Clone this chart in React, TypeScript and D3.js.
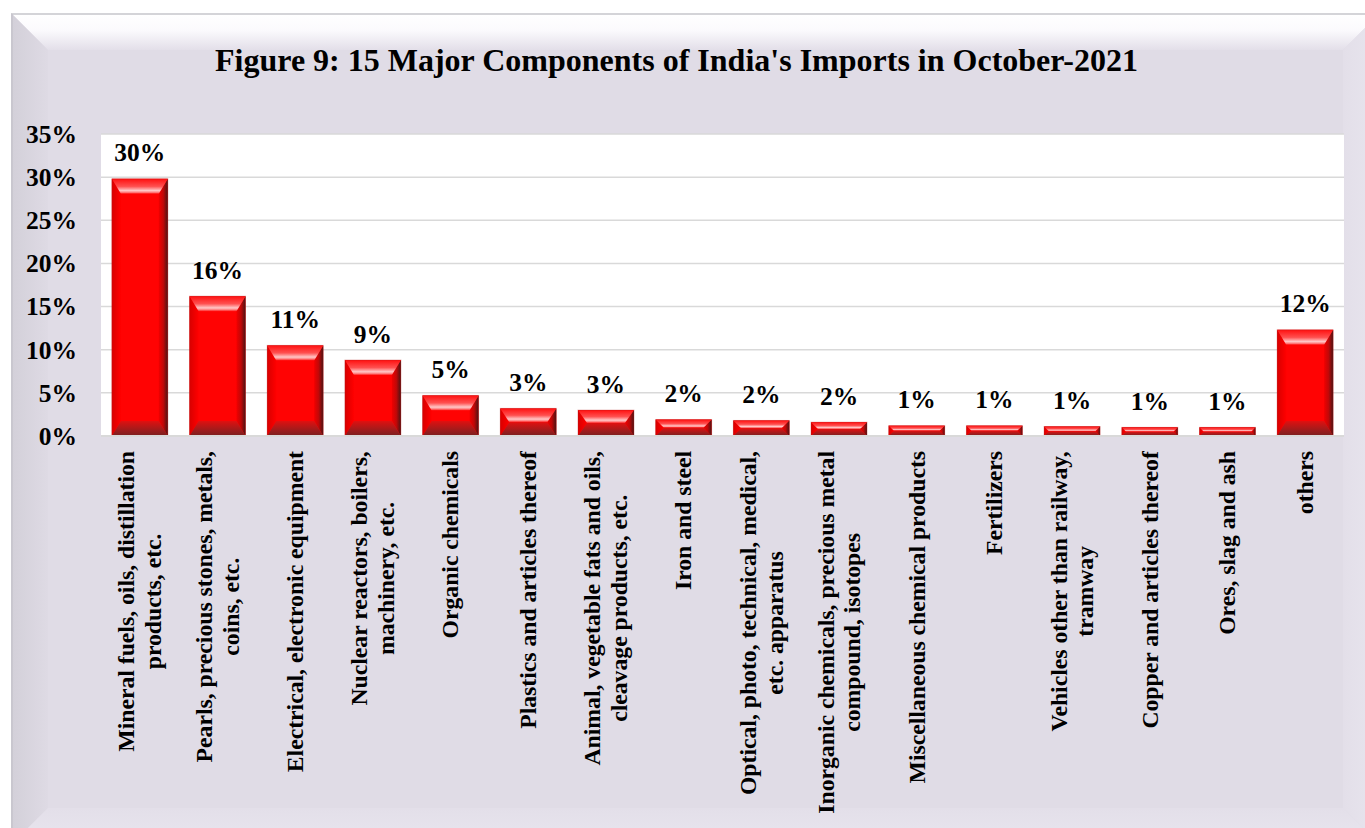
import React from "react";
import * as d3 from "d3";

const title = "Figure 9: 15 Major Components of India's Imports in October-2021";

const categories: string[] = [
  "Mineral fuels, oils, distillation\nproducts, etc.",
  "Pearls, precious stones, metals,\ncoins, etc.",
  "Electrical, electronic equipment",
  "Nuclear reactors, boilers,\nmachinery, etc.",
  "Organic chemicals",
  "Plastics and articles thereof",
  "Animal, vegetable fats and oils,\ncleavage products, etc.",
  "Iron and steel",
  "Optical, photo, technical, medical,\netc. apparatus",
  "Inorganic chemicals, precious metal\ncompound, isotopes",
  "Miscellaneous chemical products",
  "Fertilizers",
  "Vehicles other than railway,\ntramway",
  "Copper and articles thereof",
  "Ores, slag and ash",
  "others",
];

const values: number[] = [29.8, 16.2, 10.5, 8.8, 4.7, 3.2, 3.0, 1.9, 1.8, 1.6, 1.2, 1.2, 1.1, 1.0, 1.0, 12.3];

const yTicks: number[] = [0, 5, 10, 15, 20, 25, 30, 35];

const W = 1365;
const H = 828;
const FONT = "'Liberation Serif', 'Times New Roman', serif";

const plot = { left: 101, right: 1344, top: 134, bottom: 436 };
const panel = { x0: 12, y0: 14, x1: 1379, y1: 844, b: 36 };

let canvasCtx: CanvasRenderingContext2D | null = null;
function measure(text: string, font: string): number {
  if (!canvasCtx) {
    const c = document.createElement("canvas");
    canvasCtx = c.getContext("2d");
  }
  if (!canvasCtx) return text.length * 10;
  canvasCtx.font = font;
  return canvasCtx.measureText(text).width;
}

const pts = (a: number[][]) => a.map((p) => p.join(",")).join(" ");

export default function App() {
  const x = d3
    .scaleBand<string>()
    .domain(categories)
    .range([plot.left, plot.right])
    .paddingInner(0.28)
    .paddingOuter(0.14);
  const y = d3.scaleLinear().domain([0, 35]).range([plot.bottom, plot.top]);

  const labelFontSize = 23.7;
  const labelFont = `bold ${labelFontSize}px ${FONT}`;
  const lineH = 26.7;
  const labelTop = 451;

  const { x0, y0, x1, y1, b } = panel;

  return (
    <svg
      width={W}
      height={H}
      style={{ position: "absolute", left: 0, top: 0, display: "block" }}
      xmlns="http://www.w3.org/2000/svg"
    >
      <defs>
        <linearGradient id="pTop" x1="0" y1="0" x2="0" y2="1">
          <stop offset="0" stopColor="#ffffff" />
          <stop offset="0.45" stopColor="#fbfafd" />
          <stop offset="1" stopColor="#e3dfe9" />
        </linearGradient>
        <linearGradient id="pLeft" x1="0" y1="0" x2="1" y2="0">
          <stop offset="0" stopColor="#d3d0d9" />
          <stop offset="1" stopColor="#dedae4" />
        </linearGradient>
        <linearGradient id="pRight" x1="0" y1="0" x2="1" y2="0">
          <stop offset="0" stopColor="#e3dfe9" />
          <stop offset="1" stopColor="#e8e5ee" />
        </linearGradient>
        <linearGradient id="pBottom" x1="0" y1="0" x2="0" y2="1">
          <stop offset="0" stopColor="#e3dfe9" />
          <stop offset="1" stopColor="#e9e6ef" />
        </linearGradient>
        <linearGradient id="bTop" x1="0" y1="0" x2="0" y2="1">
          <stop offset="0" stopColor="#ff1010" />
          <stop offset="0.5" stopColor="#ff5050" />
          <stop offset="0.78" stopColor="#ffc8c8" />
          <stop offset="0.9" stopColor="#ff8080" />
          <stop offset="1" stopColor="#ff1a1a" />
        </linearGradient>
        <linearGradient id="bBottom" x1="0" y1="0" x2="0" y2="1">
          <stop offset="0" stopColor="#e01010" />
          <stop offset="0.6" stopColor="#a01c1c" />
          <stop offset="1" stopColor="#7a2020" />
        </linearGradient>
        <linearGradient id="bRight" x1="0" y1="0" x2="1" y2="0">
          <stop offset="0" stopColor="#f00000" />
          <stop offset="0.5" stopColor="#c00808" />
          <stop offset="1" stopColor="#4a1414" />
        </linearGradient>
        <linearGradient id="bLeft" x1="0" y1="0" x2="1" y2="0">
          <stop offset="0" stopColor="#d80000" />
          <stop offset="1" stopColor="#ff0000" />
        </linearGradient>
      </defs>

      {/* panel */}
      <rect x={x0} y={y0} width={x1 - x0} height={y1 - y0} fill="#e0dce6" stroke="#cfcfd3" strokeWidth={2} />
      <polygon points={pts([[x0, y0], [x1, y0], [x1 - b, y0 + b], [x0 + b, y0 + b]])} fill="url(#pTop)" />
      <polygon points={pts([[x0, y0], [x0 + b, y0 + b], [x0 + b, y1 - b], [x0, y1]])} fill="url(#pLeft)" />
      <polygon points={pts([[x1, y0], [x1 - b, y0 + b], [x1 - b, y1 - b], [x1, y1]])} fill="url(#pRight)" />
      <polygon points={pts([[x0, y1], [x0 + b, y1 - b], [x1 - b, y1 - b], [x1, y1]])} fill="url(#pBottom)" />
      <line x1={x0} y1={y0} x2={x1} y2={y0} stroke="#d4d4d8" strokeWidth={2} />
      <line x1={x0} y1={y0} x2={x0} y2={y1} stroke="#c9c7cf" strokeWidth={2} />

      {/* title */}
      <text
        x={676.5}
        y={71}
        textAnchor="middle"
        fontFamily={FONT}
        fontWeight="bold"
        fontSize={32}
        fill="#000"
      >
        {title}
      </text>

      {/* plot area */}
      <rect x={plot.left} y={plot.top} width={plot.right - plot.left} height={plot.bottom - plot.top} fill="#ffffff" />
      {yTicks.map((t) => (
        <line
          key={`g${t}`}
          x1={plot.left}
          x2={plot.right}
          y1={y(t)}
          y2={y(t)}
          stroke="#d9d9d9"
          strokeWidth={1.5}
        />
      ))}
      {yTicks.map((t) => (
        <text
          key={`t${t}`}
          x={77}
          y={y(t)}
          dy="0.35em"
          textAnchor="end"
          fontFamily={FONT}
          fontWeight="bold"
          fontSize={25.5}
          fill="#000"
        >
          {`${t}%`}
        </text>
      ))}

      {/* bars */}
      {categories.map((c, i) => {
        const v = values[i];
        const bx0 = x(c)!;
        const bx1 = bx0 + x.bandwidth();
        const by0 = y(v);
        const by1 = y(0);
        const h = by1 - by0;
        const bw = bx1 - bx0;
        const bv = Math.min(15, h / 2, bw / 2);
        const bvs = Math.min(9, h / 2, bw / 2);
        return (
          <g key={`b${i}`}>
            <rect x={bx0} y={by0} width={bw} height={h} fill="#ff0303" />
            <polygon points={pts([[bx0, by0], [bx0 + bvs, by0 + bv], [bx0 + bvs, by1 - bv], [bx0, by1]])} fill="url(#bLeft)" />
            <polygon points={pts([[bx1, by0], [bx1 - bvs, by0 + bv], [bx1 - bvs, by1 - bv], [bx1, by1]])} fill="url(#bRight)" />
            <polygon points={pts([[bx0, by0], [bx1, by0], [bx1 - bvs, by0 + bv], [bx0 + bvs, by0 + bv]])} fill="url(#bTop)" />
            <polygon points={pts([[bx0, by1], [bx1, by1], [bx1 - bvs, by1 - bv], [bx0 + bvs, by1 - bv]])} fill="url(#bBottom)" />
            <rect x={bx0} y={by0} width={bw} height={h} fill="none" stroke="#b02020" strokeOpacity={0.35} strokeWidth={1} />
            <text
              x={(bx0 + bx1) / 2}
              y={by0 - 17.5}
              textAnchor="middle"
              fontFamily={FONT}
              fontWeight="bold"
              fontSize={25.5}
              fill="#000"
            >
              {`${Math.round(v)}%`}
            </text>
          </g>
        );
      })}

      <line x1={plot.left} x2={plot.right} y1={plot.bottom} y2={plot.bottom} stroke="#d9d9d9" strokeWidth={2} />

      {/* category labels */}
      {categories.map((c, i) => {
        const lines = c.split("\n");
        const cx = x(c)! + x.bandwidth() / 2;
        const widths = lines.map((l) => measure(l, labelFont));
        const maxW = Math.max(...widths);
        const cy = labelTop + maxW / 2;
        const n = lines.length;
        return (
          <g key={`l${i}`}>
            {lines.map((l, j) => {
              const lx = cx + (j - (n - 1) / 2) * lineH;
              return (
                <text
                  key={j}
                  transform={`translate(${lx},${cy}) rotate(-90)`}
                  dy="0.33em"
                  textAnchor="middle"
                  fontFamily={FONT}
                  fontWeight="bold"
                  fontSize={labelFontSize}
                  fill="#000"
                >
                  {l}
                </text>
              );
            })}
          </g>
        );
      })}
    </svg>
  );
}
